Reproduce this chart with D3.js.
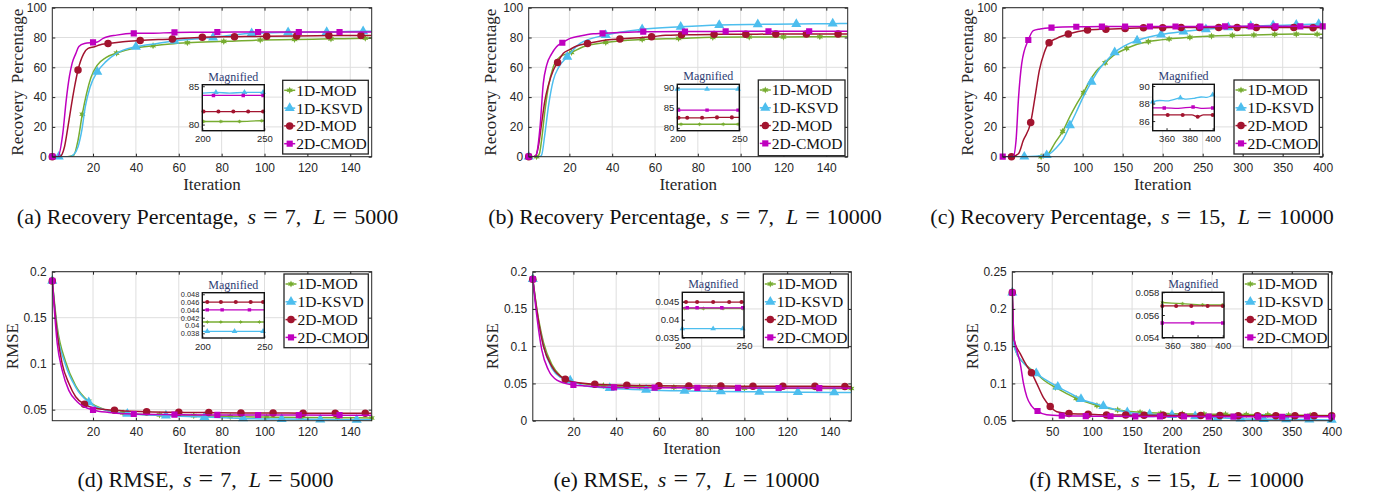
<!DOCTYPE html>
<html><head><meta charset="utf-8">
<script src="https://cdn.jsdelivr.net/npm/d3@7"></script>
<style>
body{margin:0;background:#fff}
svg{display:block}
.tk text{font-family:"Liberation Sans",Arial,sans-serif;font-size:12px;fill:#262626}
.itk text{font-family:"Liberation Sans",Arial,sans-serif;font-size:9.5px;fill:#262626}
.itk.dense text{font-size:7.4px}
.serif{font-family:"Liberation Serif","Times New Roman",serif}
</style>
</head><body>
<svg id="c" width="1375" height="493"></svg>
<script>
// ---------- data ----------
const seriesNames = ["1D-MOD","1D-KSVD","2D-MOD","2D-CMOD"];
const seriesColors = ["#77AC30","#4DBEEE","#A2142F","#BF00BF"];

const xTicks150 = [20,40,60,80,100,120,140];
const xTicks400 = [50,100,150,200,250,300,350,400];
const yTicksRP = [0,20,40,60,80,100];
const yTicksD = [0.05,0.1,0.15,0.2];
const yTicksE = [0,0.05,0.1,0.15,0.2];
const yTicksF = [0.05,0.1,0.15,0.2,0.25];
const insXTicks250 = [200,250];
const insXTicks400 = [360,380,400];
const insYTicksA = [80,85];
const insYTicksB = [80,85,90];
const insYTicksC = [86,88,90];
const insYTicksD = [0.038,0.04,0.042,0.044,0.046,0.048];
const insYTicksE = [0.035,0.04,0.045];
const insYTicksF = [0.054,0.056,0.058];

const captionLabels = ["a","b","c","d","e","f"];
const captionTitles = ["Recovery Percentage","Recovery Percentage","Recovery Percentage","RMSE","RMSE","RMSE"];
const captionS = ["7","7","15","7","7","15"];
const captionL = ["5000","10000","10000","5000","10000","10000"];

// [iteration, value, marker?]
const a_mod1 = [[1,0,0],[8,0,0],[11,1,0],[13,11,0],[15,28.5,1],[17,42.5,0],[19,53,0],[22,61.5,0],[26,66.5,0],[31,69.5,1],[39,72.7,0],[48,74.5,1],[56,75.7,0],[64,76.5,1],[81,77.4,1],[98,78.3,1],[114,78.7,1],[131,79.1,1],[147,79.5,1],[150,79.6,0]];
const a_ksvd = [[1,0,0],[4,0,1],[9,0,0],[11,1.5,0],[13,6.7,0],[14.8,18,0],[16.4,33.6,0],[18.7,47,0],[22,57,1],[26,63.8,0],[31,69.4,0],[40,73.8,1],[50,76,0],[58,77.8,1],[66,78.8,0],[76,80,1],[85,81.6,0],[94,82.8,1],[111,83.4,1],[129,83.7,1],[146,84.2,1],[150,84.2,0]];
const a_mod2 = [[1,0,1],[4.4,0,0],[6.7,6.7,0],[8.3,20,0],[9.8,33.6,0],[11.4,47,0],[13,58.2,1],[15.6,69,0],[17.7,72.7,0],[20.8,73.8,0],[23,75,0],[27,76,1],[34,77.2,0],[42,78,1],[57,79,1],[71,80.2,1],[86,80.5,1],[101,80.8,1],[115,81,1],[130,81.3,1],[145,81.4,1],[150,81.4,0]];
const a_cmod = [[1,0,1],[3.6,0,0],[5.9,15.7,0],[7.5,38,0],[9,54,0],[10.3,63,0],[11.9,69,0],[13.4,74,0],[16,76,0],[20,76.7,1],[22,77,0],[24.7,79.4,0],[31,81.6,0],[39,82.8,1],[47,82.8,0],[58,83.4,1],[78,83.6,1],[97,83.7,1],[116,83.7,1],[135,83.7,1],[150,83.7,0]];

const b_mod1 = [[1,0,0],[4.7,0,1],[6,2,0],[7,11,0],[8.6,31,0],[10.2,47,0],[12.5,60.4,0],[15.6,67,0],[21,70,1],[26.5,73.8,0],[37,76.7,1],[54,78.7,1],[71,79.4,1],[87,80.1,1],[104,80.3,1],[120,80.4,1],[137,80.5,1],[150,80.6,0]];
const b_ksvd = [[1,0,1],[6,0,0],[7,1,0],[8.6,15.7,0],[10.2,33.6,0],[12.5,51.4,0],[15,60,0],[19,67,1],[25,76,0],[37,81.7,1],[54,85.5,1],[72,87.2,1],[90,88.4,1],[108,88.8,1],[126,89,1],[143,89.3,1],[150,89.4,0]];
const b_mod2 = [[1,0,1],[4,0,0],[5.5,6.7,0],[7,22,0],[8.6,38,0],[10.2,48,0],[12.5,58,0],[14.5,63.3,1],[17.2,69.4,0],[20.3,72,0],[23.4,74.3,0],[28.5,76,1],[36,78,0],[43.6,79,1],[58.4,80.5,1],[65,81.5,0],[72.4,81.8,1],[87.6,82.1,1],[102.4,82.2,1],[116.4,82.3,1],[130.7,82.3,1],[145.5,82.4,1],[150,82.4,0]];
const b_cmod = [[1,0,1],[3.5,0,0],[4.7,2,0],[6.3,20,0],[7.8,49,0],[9.4,61.5,0],[11.7,69,0],[14,73.8,0],[16.7,76.5,1],[20.3,79.4,0],[25,81,0],[31.2,82.5,0],[35.5,82.8,1],[43.6,83.4,0],[54.5,83.9,1],[74,84,1],[93,84.1,1],[113,84.2,1],[132,84.2,1],[150,84.2,0]];

const c_mod1 = [[0,0,0],[48,0,1],[57,2,0],[65,9,0],[75,17,1],[84,27,0],[92,35,0],[101,43,1],[109,51,0],[117,57.5,0],[128,63,1],[140,68.5,0],[155,72.7,1],[168,75.5,0],[182,77.2,1],[208,79,1],[234,80.1,1],[261,81,1],[287,81.4,1],[314,81.7,1],[340,82.1,1],[367,82.3,1],[393,82.2,1],[400,82.2,0]];
const c_ksvd = [[0,0,0],[27,0,1],[55,1,1],[67,6,0],[76,12,0],[84,21,1],[92,30,0],[101,40.5,0],[111,50.3,1],[121,59,0],[130,64.5,0],[140,70,1],[151,74,0],[168,78,1],[198,82,1],[226,84,1],[254,85.5,1],[282,86.9,1],[310,87.6,1],[338,88.1,1],[367,88.5,1],[395,89,1],[400,89.1,0]];
const c_mod2 = [[0,0,0],[11,0,1],[19.6,2,0],[25.8,11,0],[35,23,1],[40.4,40,0],[45.8,58,0],[52,70,0],[58,76.5,1],[67.5,79.4,0],[82,82.3,1],[106,85,1],[129,85.6,1],[153,86.1,1],[176,86.5,1],[200,86.6,1],[223,86.7,1],[246,86.7,1],[270,86.7,1],[293,86.7,1],[317,86.7,1],[340,86.7,1],[364,86.7,1],[388,86.6,1],[400,86.7,0]];
const c_cmod = [[0,0,1],[13,0,0],[16.7,11,0],[19.6,38,0],[23.8,62.6,0],[32,78.3,1],[38.3,84.6,0],[46.7,85.7,0],[61,86.6,1],[92,87.2,1],[124,87.3,1],[153,87.4,1],[184,87.4,1],[216,87.4,1],[247,87.4,1],[278,87.5,1],[310,87.5,1],[341,87.5,1],[372,87.5,1],[400,87.5,1]];

const d_mod1 = [[1,0.19,1],[3.3,0.14,0],[7.2,0.102,0],[11.9,0.076,0],[18,0.059,1],[26,0.0497,0],[34,0.0465,1],[51,0.0443,1],[67,0.0435,1],[84,0.0425,1],[101,0.042,1],[117,0.0415,1],[134,0.0412,1],[150,0.041,1]];
const d_ksvd = [[1,0.19,1],[3.3,0.135,0],[7,0.1,0],[12,0.074,0],[18,0.058,1],[25,0.05,0],[36,0.0455,1],[54,0.0435,1],[72,0.042,1],[90,0.0405,1],[108,0.0398,1],[126,0.0393,1],[143,0.039,1],[150,0.039,0]];
const d_mod2 = [[1,0.19,1],[3.3,0.133,0],[5.6,0.1,0],[8.7,0.0787,0],[11.9,0.064,0],[16,0.0559,1],[20,0.052,0],[30,0.0493,1],[45,0.0478,1],[60,0.0471,1],[74,0.0468,1],[89,0.0465,1],[104,0.0463,1],[118,0.0462,1],[133,0.0461,1],[147,0.046,1],[150,0.046,0]];
const d_cmod = [[1,0.19,1],[3.3,0.122,0],[5.6,0.093,0],[8.7,0.071,0],[12.6,0.0587,0],[20,0.0497,1],[27.5,0.047,0],[39,0.0453,1],[58,0.0446,1],[78,0.0443,1],[97,0.0442,1],[116,0.0441,1],[135,0.044,1],[150,0.044,0]];

const e_mod1 = [[1,0.19,0],[2.9,0.15,0],[6,0.105,0],[10,0.075,0],[14,0.06,0],[18.5,0.053,1],[25,0.0495,0],[34,0.047,1],[51,0.0455,1],[67,0.0447,1],[84,0.0442,1],[100,0.0438,1],[117,0.0435,1],[134,0.0433,1],[150,0.0432,1]];
const e_ksvd = [[1,0.19,1],[2.9,0.145,0],[6,0.1,0],[10,0.07,0],[14,0.058,0],[18.5,0.0537,1],[25,0.047,0],[37,0.0437,1],[54,0.0413,1],[72,0.04,1],[89,0.0393,1],[107,0.0387,1],[125,0.0383,1],[142,0.038,1],[150,0.038,0]];
const e_mod2 = [[1,0.19,1],[2.9,0.148,0],[6,0.1,0],[9.9,0.073,0],[16.2,0.0556,1],[20,0.052,0],[30,0.049,1],[45,0.0475,1],[60,0.047,1],[74,0.0466,1],[89,0.0465,1],[104,0.0463,1],[118,0.0462,1],[133,0.0461,1],[147,0.046,1],[150,0.046,0]];
const e_cmod = [[1,0.19,1],[2.9,0.14,0],[5.2,0.095,0],[8.3,0.068,0],[12.25,0.0546,0],[20,0.048,1],[26,0.0465,0],[39,0.0447,1],[58,0.0443,1],[78,0.0441,1],[97,0.044,1],[116,0.0439,1],[135,0.0438,1],[150,0.0437,0]];

const f_mod1 = [[0,0.222,0],[2,0.155,0],[5.7,0.14,0],[12,0.13,0],[20,0.122,0],[29,0.1145,1],[40,0.104,0],[54,0.0946,1],[67,0.087,0],[80,0.08,1],[93,0.075,0],[106,0.0704,1],[132,0.0644,1],[160,0.0613,1],[186,0.06,1],[213,0.0591,1],[240,0.0588,1],[267,0.0585,1],[293,0.0583,1],[320,0.058,1],[346,0.0575,1],[373,0.0572,1],[400,0.0569,1]];
const f_ksvd = [[0,0.222,1],[2,0.152,0],[5.7,0.14,0],[12,0.13,0],[20,0.121,0],[30,0.1135,1],[43,0.104,0],[57,0.0955,1],[72,0.087,0],[86,0.079,1],[100,0.074,0],[114,0.0695,1],[129,0.065,0],[144,0.0613,1],[172,0.0585,1],[200,0.0575,1],[229,0.056,1],[257,0.054,1],[286,0.0527,1],[315,0.052,1],[343,0.0517,1],[372,0.0515,1],[400,0.051,1]];
const f_mod2 = [[0,0.222,1],[2.4,0.158,0],[9.9,0.14,0],[18,0.124,0],[24,0.1145,1],[31,0.099,0],[39,0.081,0],[47.5,0.069,1],[55.8,0.062,0],[71,0.0596,1],[95,0.0587,1],[118,0.0578,1],[142,0.0575,1],[165,0.0573,1],[189,0.0572,1],[212,0.057,1],[236,0.057,1],[260,0.0569,1],[283,0.0568,1],[307,0.0568,1],[330,0.0568,1],[354,0.0568,1],[378,0.0567,1],[400,0.0567,1]];
const f_cmod = [[0,0.222,1],[2,0.162,0],[5.7,0.1445,0],[9.9,0.127,0],[14,0.1,0],[18.2,0.082,0],[24,0.07,0],[31.6,0.063,1],[43,0.058,0],[62,0.0567,1],[92,0.0562,1],[123,0.056,1],[154,0.0558,1],[185,0.0557,1],[215,0.0556,1],[246,0.0555,1],[277,0.0554,1],[308,0.0554,1],[338,0.0553,1],[369,0.0553,1],[400,0.0553,1]];

// magnified insets
const inA_mod1 = [[200,80.4,0],[201,80.4,1],[215,80.4,1],[230,80.4,1],[248,80.5,1],[250,80.5,0]];
const inA_ksvd = [[200,84.1,0],[211,84.2,1],[222,84.1,0],[234,84.2,1],[249,84.2,1],[250,84.2,0]];
const inA_mod2 = [[200,81.7,0],[201,81.7,1],[213,81.7,1],[225,81.7,1],[237,81.7,1],[249,81.7,1],[250,81.7,0]];
const inA_cmod = [[200,83.8,0],[209,83.8,1],[233,83.8,1],[249,83.8,1],[250,83.8,0]];

const inB_mod1 = [[200,80.9,0],[203,80.9,1],[218,80.9,1],[237,80.9,1],[249,80.9,1],[250,80.9,0]];
const inB_ksvd = [[200,89.6,1],[224,89.6,1],[249,89.6,1],[250,89.6,0]];
const inB_mod2 = [[200,82.5,0],[201,82.5,1],[208,82.5,1],[220,82.5,1],[232,82.6,1],[244,82.6,1],[250,82.6,0]];
const inB_cmod = [[200,84.4,0],[201,84.4,1],[224,84.4,1],[249,84.4,1],[250,84.4,0]];

const inC_mod1 = [[348,82.2,0],[400,82.2,0]];
const inC_ksvd = [[348,88.2,1],[354,88.35,0],[360,88.3,0],[366,88.45,0],[372,88.65,1],[377,88.5,0],[384,88.6,0],[390,88.75,0],[395,88.7,0],[400,89.0,1]];
const inC_mod2 = [[348,86.7,0],[361,86.7,1],[374,86.7,1],[382,86.7,0],[387,86.5,1],[392,86.7,0],[400,86.7,1]];
const inC_cmod = [[348,87.5,0],[358,87.5,1],[370,87.45,0],[383,87.6,1],[390,87.45,0],[400,87.5,1]];

const inD_mod1 = [[200,0.0409,0],[204,0.0409,1],[215,0.0409,1],[231,0.0409,1],[246,0.0409,1],[250,0.0409,0]];
const inD_ksvd = [[200,0.0385,0],[204,0.0385,1],[226,0.0385,1],[249,0.0385,1],[250,0.0385,0]];
const inD_mod2 = [[200,0.046,0],[204,0.046,1],[215,0.046,1],[227,0.046,1],[239,0.046,1],[249,0.046,1],[250,0.046,0]];
const inD_cmod = [[200,0.044,0],[204,0.044,1],[216,0.044,1],[238,0.044,1],[250,0.044,0]];

const inE_mod1 = [[200,0.0431,0],[202,0.0431,1],[217,0.0431,1],[233,0.0431,1],[249,0.0431,1],[250,0.0431,0]];
const inE_ksvd = [[200,0.0375,1],[225,0.0375,1],[249,0.0375,1],[250,0.0375,0]];
const inE_mod2 = [[200,0.0449,0],[203,0.0449,1],[212,0.0449,1],[225,0.0449,1],[238,0.0449,1],[248,0.0449,1],[250,0.0449,0]];
const inE_cmod = [[200,0.0433,0],[204,0.0433,1],[212,0.0433,1],[232,0.0433,1],[249,0.0433,1],[250,0.0433,0]];

const inF_mod1 = [[352,0.0571,1],[368,0.057,1],[384,0.0569,1],[400,0.0569,1]];
const inF_ksvd = [[352,0.051,0],[400,0.051,0]];
const inF_mod2 = [[352,0.0568,1],[363,0.0568,1],[375,0.0568,1],[388,0.0568,1],[400,0.0568,1]];
const inF_cmod = [[352,0.0553,1],[376,0.0553,1],[400,0.0553,1]];

// ---------- layout ----------
const panels = [
 {data:[a_mod1,a_ksvd,a_mod2,a_cmod], px:[52.3,371.7], py:[7.7,156.7], xd:[1,150], yd:[0,100], xt:xTicks150, yt:yTicksRP, ylab:"Recovery Percentage", ylx:35.5,
  ins:{data:[inA_mod1,inA_ksvd,inA_mod2,inA_cmod], px:[202.3,264.3], py:[84.7,130.7], xd:[200,250], yd:[79.2,85.2], xt:insXTicks250, yt:insYTicksA},
  leg:[282.7,80.3,85.6,73.7], cap:[207.5,216]},
 {data:[b_mod1,b_ksvd,b_mod2,b_cmod], px:[528.7,847.7], py:[7.7,156.7], xd:[1,150], yd:[0,100], xt:xTicks150, yt:yTicksRP, ylab:"Recovery Percentage", ylx:38.5,
  ins:{data:[inB_mod1,inB_ksvd,inB_mod2,inB_cmod], px:[677.3,739.3], py:[84.3,130.7], xd:[200,250], yd:[79.3,90.8], xt:insXTicks250, yt:insYTicksB},
  leg:[758.3,80,86.7,75.7], cap:[685,216]},
 {data:[c_mod1,c_ksvd,c_mod2,c_cmod], px:[1002.7,1322.7], py:[7.7,156.7], xd:[0,400], yd:[0,100], xt:xTicks400, yt:yTicksRP, ylab:"Recovery Percentage", ylx:36,
  ins:{data:[inC_mod1,inC_ksvd,inC_mod2,inC_cmod], px:[1152.7,1214.3], py:[84.3,130.7], xd:[348,401.4], yd:[84.9,90.2], xt:insXTicks400, yt:insYTicksC},
  leg:[1234,80,85.3,74], cap:[1132,216]},
 {data:[d_mod1,d_ksvd,d_mod2,d_cmod], px:[52.3,371.7], py:[271.7,420.7], xd:[1,150], yd:[0.038,0.2], xt:xTicks150, yt:yTicksD, ylab:"RMSE", ylx:40,
  ins:{data:[inD_mod1,inD_ksvd,inD_mod2,inD_cmod], px:[202.3,264.3], py:[292.7,338], xd:[200,250], yd:[0.0368,0.0484], xt:insXTicks250, yt:insYTicksD, dense:true},
  leg:[284,274,84.3,73.7], cap:[205.5,479]},
 {data:[e_mod1,e_ksvd,e_mod2,e_cmod], px:[532.8,851.3], py:[271.7,420.7], xd:[1,150], yd:[0,0.2], xt:xTicks150, yt:yTicksE, ylab:"RMSE", ylx:41,
  ins:{data:[inE_mod1,inE_ksvd,inE_mod2,inE_cmod], px:[682.3,744], py:[292.3,337.7], xd:[200,250], yd:[0.035,0.0476], xt:insXTicks250, yt:insYTicksE},
  leg:[763.3,274,85,73.7], cap:[686.5,479]},
 {data:[f_mod1,f_ksvd,f_mod2,f_cmod], px:[1012.3,1331.7], py:[271.7,420.7], xd:[0,400], yd:[0.05,0.25], xt:xTicks400, yt:yTicksF, ylab:"RMSE", ylx:40,
  ins:{data:[inF_mod1,inF_ksvd,inF_mod2,inF_cmod], px:[1162.3,1224], py:[292.3,337.7], xd:[352,401], yd:[0.054,0.058], xt:insXTicks400, yt:insYTicksF},
  leg:[1243.3,274,85,73.7], cap:[1166.5,479]}
];

// six-pointed filled star (MATLAB-like hexagram/asterisk look)
const symbolHexStar = {
  draw(ctx, size) {
    const R = Math.sqrt(size) * 0.62, r = R * 0.5;
    for (let i = 0; i < 12; i++) {
      const a = -Math.PI/2 + i*Math.PI/6, rr = i % 2 ? r : R;
      const px = rr*Math.cos(a), py = rr*Math.sin(a);
      if (i === 0) ctx.moveTo(px, py); else ctx.lineTo(px, py);
    }
    ctx.closePath();
  }
};
const symTypes = [symbolHexStar, d3.symbolTriangle, d3.symbolCircle, d3.symbolSquare];
const mainSizes = [34, 44, 44, 38];
const insSizes = [12, 14, 13, 12];

const svg = d3.select("#c");
const defs = svg.append("defs");

function drawSeries(g, data, x, y, clipId, sizes, lw) {
  const line = d3.line().x(d=>x(d[0])).y(d=>y(d[1])).curve(d3.curveMonotoneX);
  data.forEach((s,i)=>{
    g.append("path").datum(s).attr("d", line).attr("fill","none")
      .attr("stroke", seriesColors[i]).attr("stroke-width", lw).attr("clip-path", `url(#${clipId})`);
    g.append("g").attr("clip-path", `url(#${clipId}m)`).selectAll("path").data(s.filter(d=>d[2]===1)).join("path")
      .attr("transform", d=>`translate(${x(d[0])},${y(d[1])})`)
      .attr("d", d3.symbol().type(symTypes[i]).size(sizes[i]))
      .attr("fill", seriesColors[i]);
  });
}

panels.forEach((p, k)=>{
  const g = svg.append("g");
  const x = d3.scaleLinear().domain(p.xd).range(p.px);
  const y = d3.scaleLinear().domain(p.yd).range([p.py[1], p.py[0]]);
  const W = p.px[1]-p.px[0], H = p.py[1]-p.py[0];
  const cid = "clip"+k;
  defs.append("clipPath").attr("id",cid).append("rect").attr("x",p.px[0]).attr("y",p.py[0]).attr("width",W).attr("height",H);
  defs.append("clipPath").attr("id",cid+"m").append("rect").attr("x",p.px[0]-6).attr("y",p.py[0]-6).attr("width",W+12).attr("height",H+12);

  // grid
  g.append("g").selectAll("line").data(p.xt).join("line")
    .attr("x1",d=>x(d)).attr("x2",d=>x(d)).attr("y1",p.py[0]).attr("y2",p.py[1])
    .attr("stroke","#dedede").attr("stroke-width",1);
  g.append("g").selectAll("line").data(p.yt).join("line")
    .attr("y1",d=>y(d)).attr("y2",d=>y(d)).attr("x1",p.px[0]).attr("x2",p.px[1])
    .attr("stroke","#dedede").attr("stroke-width",1);

  drawSeries(g, p.data, x, y, cid, mainSizes, 1.5);

  // axes
  const fmt = d=>String(d);
  const ax = g.append("g").attr("class","tk").attr("transform",`translate(0,${p.py[1]})`)
    .call(d3.axisBottom(x).tickValues(p.xt).tickSizeInner(-3).tickSizeOuter(0).tickPadding(7).tickFormat(fmt));
  const ay = g.append("g").attr("class","tk").attr("transform",`translate(${p.px[0]},0)`)
    .call(d3.axisLeft(y).tickValues(p.yt).tickSizeInner(-3).tickSizeOuter(0).tickPadding(5.5).tickFormat(fmt));
  [ax,ay].forEach(a=>{a.select(".domain").remove(); a.selectAll(".tick line").attr("stroke","#262626");});
  g.append("g").attr("transform",`translate(0,${p.py[0]})`)
    .call(d3.axisTop(x).tickValues(p.xt).tickSizeInner(-3).tickSizeOuter(0).tickFormat(""))
    .call(a=>{a.select(".domain").remove(); a.selectAll(".tick line").attr("stroke","#262626");});
  g.append("g").attr("transform",`translate(${p.px[1]},0)`)
    .call(d3.axisRight(y).tickValues(p.yt).tickSizeInner(-3).tickSizeOuter(0).tickFormat(""))
    .call(a=>{a.select(".domain").remove(); a.selectAll(".tick line").attr("stroke","#262626");});
  g.append("rect").attr("x",p.px[0]).attr("y",p.py[0]).attr("width",W).attr("height",H)
    .attr("fill","none").attr("stroke","#262626").attr("stroke-width",1);

  // axis labels
  g.append("text").attr("class","serif").attr("x",(p.px[0]+p.px[1])/2).attr("y",p.py[1]+33)
    .attr("text-anchor","middle").attr("font-size",17).attr("fill","#262626").text("Iteration");
  g.append("text").attr("class","serif")
    .attr("transform",`translate(${p.px[0]-p.ylx},${(p.py[0]+p.py[1])/2}) rotate(-90)`)
    .attr("text-anchor","middle").attr("dy","0.35em").attr("font-size",17).attr("fill","#262626")
    .attr("word-spacing","3px").text(p.ylab);

  // inset
  const q = p.ins;
  const ix = d3.scaleLinear().domain(q.xd).range(q.px);
  const iy = d3.scaleLinear().domain(q.yd).range([q.py[1], q.py[0]]);
  const iW = q.px[1]-q.px[0], iH = q.py[1]-q.py[0];
  const icid = "iclip"+k;
  defs.append("clipPath").attr("id",icid).append("rect").attr("x",q.px[0]).attr("y",q.py[0]).attr("width",iW).attr("height",iH);
  defs.append("clipPath").attr("id",icid+"m").append("rect").attr("x",q.px[0]-3).attr("y",q.py[0]).attr("width",iW+6).attr("height",iH);
  const gi = svg.append("g");
  gi.append("rect").attr("x",q.px[0]).attr("y",q.py[0]).attr("width",iW).attr("height",iH).attr("fill","#fff");
  drawSeries(gi, q.data, ix, iy, icid, insSizes, 1.3);
  const iax = gi.append("g").attr("class","itk").attr("transform",`translate(0,${q.py[1]})`)
    .call(d3.axisBottom(ix).tickValues(q.xt).tickSizeInner(-2.5).tickSizeOuter(0).tickPadding(5).tickFormat(fmt));
  const iay = gi.append("g").attr("class", q.dense ? "itk dense" : "itk").attr("transform",`translate(${q.px[0]},0)`)
    .call(d3.axisLeft(iy).tickValues(q.yt).tickSizeInner(-2.5).tickSizeOuter(0).tickPadding(3).tickFormat(fmt));
  [iax,iay].forEach(a=>{a.select(".domain").remove(); a.selectAll(".tick line").attr("stroke","#262626");});
  gi.append("rect").attr("x",q.px[0]).attr("y",q.py[0]).attr("width",iW).attr("height",iH)
    .attr("fill","none").attr("stroke","#111").attr("stroke-width",1.4);
  gi.append("text").attr("class","serif").attr("x",(q.px[0]+q.px[1])/2).attr("y",q.py[0]-4)
    .attr("text-anchor","middle").attr("font-size",12).attr("fill","#2E3C73").text("Magnified");

  // legend
  const [lx,ly,lw,lh] = p.leg;
  const gl = svg.append("g");
  gl.append("rect").attr("x",lx).attr("y",ly).attr("width",lw).attr("height",lh)
    .attr("fill","#fff").attr("stroke","#262626").attr("stroke-width",1.3);
  seriesNames.forEach((nm,i)=>{
    const ry = ly + 10 + i*17.8;
    gl.append("line").attr("x1",lx+1.5).attr("x2",lx+12.5).attr("y1",ry).attr("y2",ry)
      .attr("stroke",seriesColors[i]).attr("stroke-width",1.5);
    gl.append("path").attr("transform",`translate(${lx+7},${ry})`)
      .attr("d", d3.symbol().type(symTypes[i]).size(mainSizes[i])).attr("fill",seriesColors[i]);
    gl.append("text").attr("class","serif").attr("x",lx+13.5).attr("y",ry).attr("dy","0.35em")
      .attr("font-size",15.5).attr("fill","#111").text(nm);
  });

  // caption
  const [cx,cy] = p.cap;
  const t = svg.append("text").attr("class","serif").attr("x",cx).attr("y",cy).attr("dy","0.35em")
    .attr("text-anchor","middle").attr("font-size",22).attr("fill","#111");
  t.append("tspan").text(`(${captionLabels[k]}) ${captionTitles[k]},`);
  t.append("tspan").attr("dx",9).attr("font-style","italic").text("s");
  t.append("tspan").attr("dx",7).attr("font-size",26).text("=");
  t.append("tspan").attr("dx",7).text(`${captionS[k]},`);
  t.append("tspan").attr("dx",12).attr("font-style","italic").text("L");
  t.append("tspan").attr("dx",7).attr("font-size",26).text("=");
  t.append("tspan").attr("dx",7).text(captionL[k]);
});
</script>
</body></html>
